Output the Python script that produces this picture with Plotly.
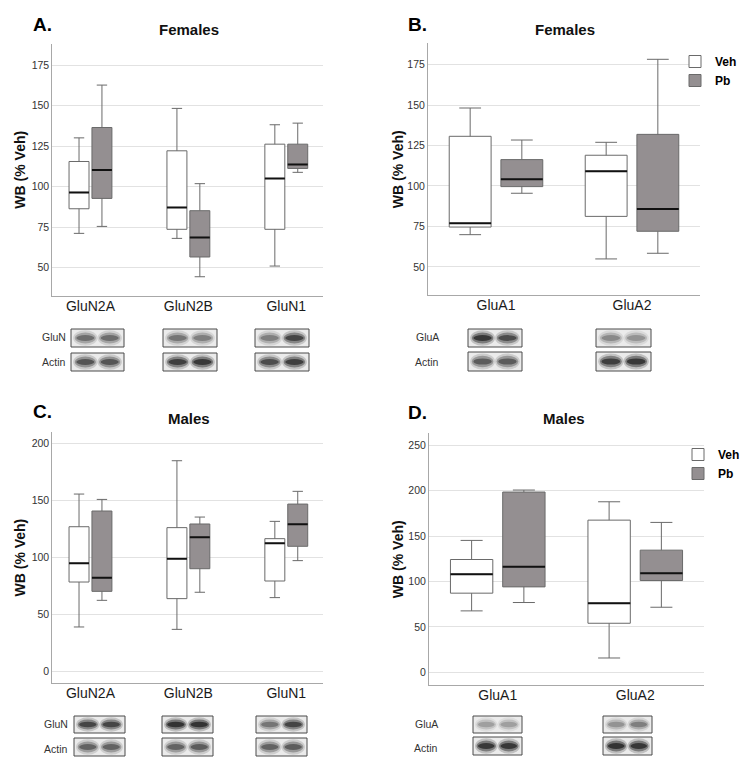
import plotly.graph_objects as go

W, H = 746, 769
FONT = "Liberation Sans, Arial, sans-serif"

# ---------------- data ----------------
cats_glun = ["GluN2A", "GluN2B", "GluN1"]
cats_glua = ["GluA1", "GluA2"]

# A. Females, GluN subunits
a_veh_low = [71.2, 68.1, 51.0]
a_veh_q1 = [86.4, 73.7, 73.7]
a_veh_med = [96.5, 87.2, 105.1]
a_veh_q3 = [115.6, 122.2, 126.3]
a_veh_up = [130.2, 148.4, 138.3]
a_pb_low = [75.5, 44.4, 108.9]
a_pb_q1 = [92.8, 56.6, 111.3]
a_pb_med = [110.3, 68.7, 113.8]
a_pb_q3 = [136.6, 85.2, 126.3]
a_pb_up = [162.8, 101.9, 139.3]

# B. Females, GluA subunits
b_veh_low = [69.9, 54.9]
b_veh_q1 = [74.6, 81.2]
b_veh_med = [76.9, 109.1]
b_veh_q3 = [130.7, 119.0]
b_veh_up = [148.2, 127.0]
b_pb_low = [95.5, 58.4]
b_pb_q1 = [99.6, 72.0]
b_pb_med = [104.1, 85.8]
b_pb_q3 = [116.3, 131.9]
b_pb_up = [128.4, 178.3]

# C. Males, GluN subunits
c_veh_low = [38.8, 36.7, 64.6]
c_veh_q1 = [78.3, 63.7, 79.2]
c_veh_med = [94.7, 98.8, 112.3]
c_veh_q3 = [126.9, 126.1, 116.4]
c_veh_up = [155.6, 184.9, 131.6]
c_pb_low = [62.2, 69.3, 97.1]
c_pb_q1 = [70.1, 90.0, 109.7]
c_pb_med = [82.1, 117.6, 129.0]
c_pb_q3 = [140.7, 129.3, 146.8]
c_pb_up = [150.9, 135.4, 158.0]

# D. Males, GluA subunits
d_veh_low = [67.7, 15.9]
d_veh_q1 = [87.2, 54.1]
d_veh_med = [108.1, 76.1]
d_veh_q3 = [124.2, 167.5]
d_veh_up = [145.2, 187.7]
d_pb_low = [76.9, 71.7]
d_pb_q1 = [94.1, 101.1]
d_pb_med = [116.2, 109.2]
d_pb_q3 = [198.4, 134.5]
d_pb_up = [200.6, 165.0]

groups = ["Veh", "Pb"]

# ---------------- styling / layout ----------------
VEH_FILL = "#ffffff"
PB_FILL = "#948f91"
BOX_LINE = "#6a6a6a"
GRID = "#e2e2e2"
AXLINE = "#a8a8a8"


def px(x):
    return x / W


def py(y):
    return 1 - y / H


panels = [
    dict(ax="", cats=cats_glun,
         veh=(a_veh_low, a_veh_q1, a_veh_med, a_veh_q3, a_veh_up),
         pb=(a_pb_low, a_pb_q1, a_pb_med, a_pb_q3, a_pb_up),
         dx=(52.3, 323), dy=(44.3, 296), yr=[32.5, 188.0], dt=25, t0=50,
         xr=[-0.39, 2.375], off=0.117, bw=0.204, legend=None,
         letter="A.", lxy=(42.5, 24), title="Females", txy=(189, 29), ytx=20.5),
    dict(ax="2", cats=cats_glua,
         veh=(b_veh_low, b_veh_q1, b_veh_med, b_veh_q3, b_veh_up),
         pb=(b_pb_low, b_pb_q1, b_pb_med, b_pb_q3, b_pb_up),
         dx=(428, 700), dy=(43.3, 295), yr=[32.6, 188.2], dt=25, t0=50,
         xr=[-0.5, 1.5], off=0.19, bw=0.308, legend="legend",
         letter="B.", lxy=(417, 24), title="Females", txy=(565, 29), ytx=398),
    dict(ax="3", cats=cats_glun,
         veh=(c_veh_low, c_veh_q1, c_veh_med, c_veh_q3, c_veh_up),
         pb=(c_pb_low, c_pb_q1, c_pb_med, c_pb_q3, c_pb_up),
         dx=(52.3, 323), dy=(431.7, 683.3), yr=[-10.7, 210.4], dt=50, t0=0,
         xr=[-0.39, 2.375], off=0.117, bw=0.204, legend=None,
         letter="C.", lxy=(42.5, 411), title="Males", txy=(189, 418), ytx=19),
    dict(ax="4", cats=cats_glua,
         veh=(d_veh_low, d_veh_q1, d_veh_med, d_veh_q3, d_veh_up),
         pb=(d_pb_low, d_pb_q1, d_pb_med, d_pb_q3, d_pb_up),
         dx=(429, 704), dy=(433.3, 685), yr=[-13.8, 263.0], dt=50, t0=0,
         xr=[-0.5, 1.5], off=0.19, bw=0.308, legend="legend2",
         letter="D.", lxy=(417, 412), title="Males", txy=(564, 418), ytx=398),
]

fig = go.Figure()
annotations = []
shapes = []
layout_axes = {}

for p in panels:
    xa = "x" + p["ax"]
    ya = "y" + p["ax"]
    idx = list(range(len(p["cats"])))
    for g, stats, fill, sign in [("Veh", p["veh"], VEH_FILL, -1), ("Pb", p["pb"], PB_FILL, 1)]:
        low, q1, med, q3, up = stats
        xpos = [i + sign * p["off"] for i in idx]
        fig.add_trace(go.Box(
            x=xpos, lowerfence=low, q1=q1, median=med, q3=q3, upperfence=up,
            name=g, width=p["bw"], fillcolor=fill,
            line=dict(color=BOX_LINE, width=1), whiskerwidth=0.52,
            boxpoints=False, hoverinfo="skip",
            showlegend=p["legend"] is not None,
            legend=p["legend"] if p["legend"] else "legend",
            xaxis=xa, yaxis=ya,
        ))
        # thick black median lines
        mx, my = [], []
        for xc, m in zip(xpos, med):
            mx += [xc - p["bw"] / 2, xc + p["bw"] / 2, None]
            my += [m, m, None]
        fig.add_trace(go.Scatter(x=mx, y=my, mode="lines",
                                 line=dict(color="#111111", width=2),
                                 showlegend=False, hoverinfo="skip",
                                 xaxis=xa, yaxis=ya))

    layout_axes["xaxis" + p["ax"]] = dict(
        domain=[px(p["dx"][0]), px(p["dx"][1])], anchor=ya, range=p["xr"],
        tickmode="array", tickvals=idx, ticktext=p["cats"],
        showgrid=False, zeroline=False, showline=True, linecolor=AXLINE,
        linewidth=1, ticks="", ticklabelstandoff=-3,
        tickfont=dict(family=FONT, size=14, color="#1a1a1a"),
        fixedrange=True,
    )
    layout_axes["yaxis" + p["ax"]] = dict(
        domain=[py(p["dy"][1]), py(p["dy"][0])], anchor=xa, range=p["yr"],
        tickmode="linear", tick0=p["t0"], dtick=p["dt"],
        showgrid=True, gridcolor=GRID, gridwidth=1, zeroline=False,
        showline=True, linecolor=AXLINE, linewidth=1, ticks="",
        tickfont=dict(family=FONT, size=10.5, color="#333333"),
        fixedrange=True,
    )
    annotations.append(dict(text=p["letter"], x=px(p["lxy"][0]), y=py(p["lxy"][1]),
                            xref="paper", yref="paper", showarrow=False,
                            xanchor="center", yanchor="middle",
                            font=dict(family=FONT, size=19, color="#000", weight="bold")))
    annotations.append(dict(text=p["title"], x=px(p["txy"][0]), y=py(p["txy"][1]),
                            xref="paper", yref="paper", showarrow=False,
                            xanchor="center", yanchor="middle",
                            font=dict(family=FONT, size=15, color="#111", weight="bold")))
    annotations.append(dict(text="WB (% Veh)", x=px(p["ytx"]),
                            y=py((p["dy"][0] + p["dy"][1]) / 2),
                            xref="paper", yref="paper", showarrow=False, textangle=-90,
                            xanchor="center", yanchor="middle",
                            font=dict(family=FONT, size=14, color="#111", weight="bold")))

# ---------------- western blot insets (decorative) ----------------
blot_panels = [
    dict(label="GluN", lx=68, rows=[(329, 347, 337), (353, 371, 362)],
         blots=[(71, 124), (163, 217), (255, 309)],
         dark=[[(0.55, 0.55), (0.5, 0.45), (0.45, 0.8)],
               [(0.7, 0.7), (0.85, 0.9), (0.75, 0.85)]]),
    dict(label="GluA", lx=441, rows=[(329, 347, 337), (352, 371, 362)],
         blots=[(468, 522), (596, 651)],
         dark=[[(0.9, 0.75), (0.4, 0.35)],
               [(0.65, 0.65), (0.85, 0.9)]]),
    dict(label="GluN", lx=70, rows=[(716, 733, 724), (738, 756, 749)],
         blots=[(74, 125), (162, 213), (256, 307)],
         dark=[[(0.8, 0.8), (0.95, 0.95), (0.5, 0.8)],
               [(0.6, 0.6), (0.6, 0.65), (0.6, 0.65)]]),
    dict(label="GluA", lx=440, rows=[(716, 733, 724), (737, 755, 748)],
         blots=[(473, 522), (603, 652)],
         dark=[[(0.3, 0.3), (0.35, 0.45)],
               [(0.9, 0.9), (0.95, 0.9)]]),
]

for bp in blot_panels:
    for r, (y0, y1, yc) in enumerate(bp["rows"]):
        annotations.append(dict(text=bp["label"] if r == 0 else "Actin",
                                x=px(bp["lx"]), y=py(yc), xref="paper", yref="paper",
                                showarrow=False, xanchor="right", yanchor="middle",
                                font=dict(family=FONT, size=10.5, color="#333")))
        for b, (x0, x1) in enumerate(bp["blots"]):
            shapes.append(dict(type="rect", xref="paper", yref="paper",
                               x0=px(x0), x1=px(x1), y0=py(y1), y1=py(y0),
                               fillcolor="#ebebeb", line=dict(color="#4a4a4a", width=1),
                               layer="above"))
            bw = (x1 - x0)
            rh = (y1 - y0)
            ymid = (y0 + y1) / 2
            for lane, fx in enumerate([0.27, 0.73]):
                d = bp["dark"][r][b][lane]
                xc = x0 + fx * bw
                for sw, sh, op in [(0.46, 0.85, 0.2), (0.4, 0.6, 0.4), (0.34, 0.32, 0.6)]:
                    shapes.append(dict(type="circle", xref="paper", yref="paper",
                                       x0=px(xc - sw * bw / 2), x1=px(xc + sw * bw / 2),
                                       y0=py(ymid + sh * rh / 2), y1=py(ymid - sh * rh / 2),
                                       fillcolor="black", opacity=op * d,
                                       line=dict(width=0), layer="above"))

legend_style = dict(font=dict(family=FONT, size=12, color="#000", weight="bold"),
                    bgcolor="rgba(0,0,0,0)", borderwidth=0, itemwidth=30,
                    tracegroupgap=0, xanchor="left", yanchor="top", orientation="v")

fig.update_layout(
    width=W, height=H,
    margin=dict(l=0, r=0, t=0, b=0),
    paper_bgcolor="white", plot_bgcolor="white",
    showlegend=True,
    legend=dict(x=px(675), y=py(47), **legend_style),
    legend2=dict(x=px(678), y=py(440), **legend_style),
    annotations=annotations,
    shapes=shapes,
    **layout_axes,
)

fig.write_html(
    "out.html",
    config={"displayModeBar": False, "staticPlot": True},
    post_script="document.body.style.margin='0';document.body.style.overflow='hidden';",
)
